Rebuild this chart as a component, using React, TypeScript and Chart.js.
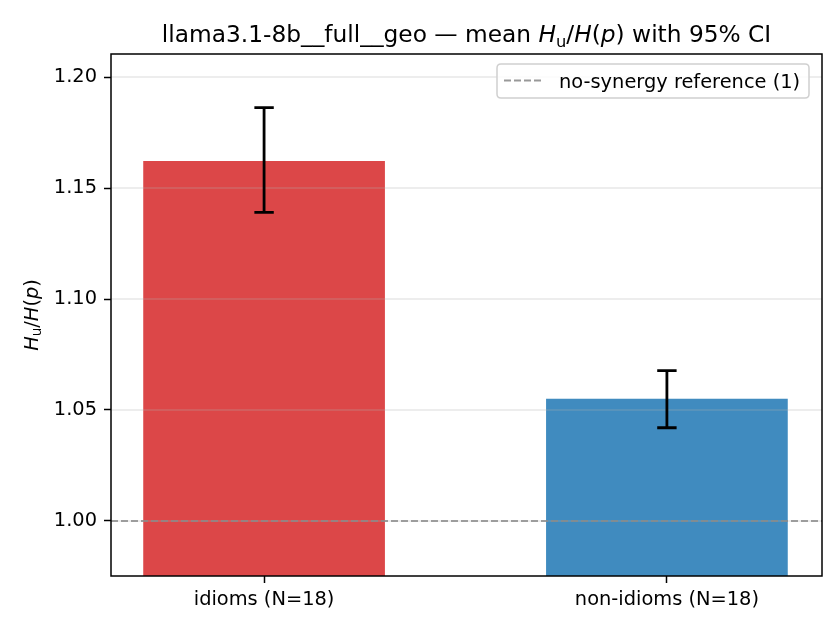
import React, { useEffect, useRef } from "react";
import { Chart, registerables } from "chart.js";

Chart.register(...registerables);

const categories = ["idioms (N=18)", "non-idioms (N=18)"];
const xPositions = [0, 1];
const means = [1.1622, 1.0551];
const ciLow = [1.1390, 1.0420];
const ciHigh = [1.1862, 1.0677];
const barColors = ["rgba(214,39,40,0.85)", "rgba(31,119,180,0.85)"];
const yTicks = [1.0, 1.05, 1.1, 1.15, 1.2];
const yMin = 0.9752;
const yMax = 1.2104;
const xMin = -0.38;
const xMax = 1.385;
const refValue = 1.0;
const refLabel = "no-synergy reference (1)";

const FONT = "'DejaVu Sans', 'Liberation Sans', sans-serif";
const FS = 19.4;

type Seg = { t: string; s: "n" | "i" | "sub" };

function segFont(seg: Seg, size: number) {
  if (seg.s === "i") return `italic ${size}px ${FONT}`;
  if (seg.s === "sub") return `${size * 0.7}px ${FONT}`;
  return `${size}px ${FONT}`;
}

function drawMath(ctx: CanvasRenderingContext2D, segs: Seg[], cx: number, y: number, size: number) {
  let total = 0;
  const widths = segs.map((sg) => {
    ctx.font = segFont(sg, size);
    const w = ctx.measureText(sg.t).width;
    total += w;
    return w;
  });
  let x = cx - total / 2;
  ctx.textAlign = "left";
  segs.forEach((sg, i) => {
    ctx.font = segFont(sg, size);
    ctx.fillText(sg.t, x, sg.s === "sub" ? y + size * 0.22 : y);
    x += widths[i];
  });
}

const titleSegs: Seg[] = [
  { t: "llama3.1-8b__full__geo — mean ", s: "n" },
  { t: "H", s: "i" },
  { t: "u", s: "sub" },
  { t: "/", s: "n" },
  { t: "H", s: "i" },
  { t: "(", s: "n" },
  { t: "p", s: "i" },
  { t: ")", s: "n" },
  { t: " with 95% CI", s: "n" },
];

const ylabelSegs: Seg[] = [
  { t: "H", s: "i" },
  { t: "u", s: "sub" },
  { t: "/", s: "n" },
  { t: "H", s: "i" },
  { t: "(", s: "n" },
  { t: "p", s: "i" },
  { t: ")", s: "n" },
];

const overlayPlugin = {
  id: "overlay",
  beforeDatasetsDraw(chart: any) {
    const { ctx, chartArea } = chart;
    ctx.save();
    ctx.fillStyle = "#fff";
    ctx.fillRect(chartArea.left, chartArea.top, chartArea.right - chartArea.left, chartArea.bottom - chartArea.top);
    ctx.restore();
  },
  afterDatasetsDraw(chart: any) {
    const { ctx, chartArea, scales } = chart;
    const ys = scales.y;
    const xs = scales.x;
    ctx.save();
    // grid over bars
    ctx.strokeStyle = "rgba(176,176,176,0.3)";
    ctx.lineWidth = 1.5;
    yTicks.forEach((v) => {
      const py = ys.getPixelForValue(v);
      ctx.beginPath();
      ctx.moveTo(chartArea.left, py);
      ctx.lineTo(chartArea.right, py);
      ctx.stroke();
    });
    // error bars
    ctx.strokeStyle = "#000";
    ctx.lineWidth = 2.8;
    xPositions.forEach((xv, i) => {
      const px = xs.getPixelForValue(xv);
      const lo = ys.getPixelForValue(ciLow[i]);
      const hi = ys.getPixelForValue(ciHigh[i]);
      ctx.beginPath();
      ctx.moveTo(px, lo);
      ctx.lineTo(px, hi);
      ctx.moveTo(px - 9.7, lo);
      ctx.lineTo(px + 9.7, lo);
      ctx.moveTo(px - 9.7, hi);
      ctx.lineTo(px + 9.7, hi);
      ctx.stroke();
    });
    ctx.restore();
  },
  afterDraw(chart: any) {
    const { ctx, chartArea } = chart;
    ctx.save();
    // spines
    ctx.strokeStyle = "#000";
    ctx.lineWidth = 1.5;
    ctx.strokeRect(chartArea.left, chartArea.top, chartArea.right - chartArea.left, chartArea.bottom - chartArea.top);
    // legend
    const bx = 497, by = 64, bw = 312, bh = 34, r = 4;
    ctx.beginPath();
    ctx.moveTo(bx + r, by);
    ctx.lineTo(bx + bw - r, by);
    ctx.quadraticCurveTo(bx + bw, by, bx + bw, by + r);
    ctx.lineTo(bx + bw, by + bh - r);
    ctx.quadraticCurveTo(bx + bw, by + bh, bx + bw - r, by + bh);
    ctx.lineTo(bx + r, by + bh);
    ctx.quadraticCurveTo(bx, by + bh, bx, by + bh - r);
    ctx.lineTo(bx, by + r);
    ctx.quadraticCurveTo(bx, by, bx + r, by);
    ctx.closePath();
    ctx.fillStyle = "rgba(255,255,255,0.8)";
    ctx.fill();
    ctx.strokeStyle = "#d0d0d0";
    ctx.lineWidth = 1.5;
    ctx.stroke();
    ctx.strokeStyle = "rgba(128,128,128,0.8)";
    ctx.lineWidth = 1.9;
    ctx.setLineDash([7, 3]);
    ctx.beginPath();
    ctx.moveTo(504, 80.5);
    ctx.lineTo(543, 80.5);
    ctx.stroke();
    ctx.setLineDash([]);
    ctx.fillStyle = "#000";
    ctx.font = `${FS}px ${FONT}`;
    ctx.textAlign = "left";
    ctx.textBaseline = "alphabetic";
    ctx.fillText(refLabel, 559, 88);
    // title
    ctx.textBaseline = "alphabetic";
    drawMath(ctx, titleSegs, (chartArea.left + chartArea.right) / 2, 42, 23.3);
    // y label
    ctx.translate(33, (chartArea.top + chartArea.bottom) / 2);
    ctx.rotate(-Math.PI / 2);
    ctx.textBaseline = "middle";
    drawMath(ctx, ylabelSegs, 0, 0, FS);
    ctx.restore();
  },
};

export default function App() {
  const ref = useRef<HTMLCanvasElement | null>(null);
  useEffect(() => {
    document.body.style.margin = "0";
    if (!ref.current) return;
    const chart = new Chart(ref.current, {
      type: "bar",
      data: {
        datasets: [
          {
            type: "line",
            label: refLabel,
            data: [
              { x: xMin, y: refValue },
              { x: xMax, y: refValue },
            ],
            borderColor: "rgba(128,128,128,0.8)",
            borderWidth: 1.9,
            borderDash: [7, 3],
            pointRadius: 0,
            fill: false,
            order: 1,
          } as any,
          {
            type: "bar",
            label: "mean",
            data: xPositions.map((x, i) => ({ x, y: means[i] })),
            backgroundColor: barColors,
            borderWidth: 0,
            categoryPercentage: 1,
            barPercentage: 0.6,
            order: 2,
          } as any,
        ],
      },
      options: {
        animation: false,
        responsive: true,
        maintainAspectRatio: false,
        devicePixelRatio: 1,
        layout: { padding: { top: 54, right: 18, left: 0, bottom: 0 } },
        plugins: {
          legend: { display: false },
          title: { display: false },
          tooltip: { enabled: false },
        },
        scales: {
          x: {
            type: "linear",
            offset: false,
            min: xMin,
            max: xMax,
            afterBuildTicks: (s: any) => {
              s.ticks = xPositions.map((v) => ({ value: v }));
            },
            afterFit: (s: any) => {
              s.height = 54;
            },
            ticks: {
              autoSkip: false,
              maxRotation: 0,
              padding: 5,
              color: "#000",
              font: { family: FONT, size: FS },
              callback: (_v: any, i: number) => categories[i],
            },
            grid: { offset: false, drawOnChartArea: false, drawTicks: true, tickLength: 7, tickColor: "#000", tickWidth: 1.5 },
            border: { display: false },
          },
          y: {
            type: "linear",
            min: yMin,
            max: yMax,
            afterBuildTicks: (s: any) => {
              s.ticks = yTicks.map((v) => ({ value: v }));
            },
            afterFit: (s: any) => {
              s.width = 111;
            },
            ticks: {
              padding: 7,
              color: "#000",
              font: { family: FONT, size: FS },
              callback: (v: any) => Number(v).toFixed(2),
            },
            grid: { drawOnChartArea: false, drawTicks: true, tickLength: 7, tickColor: "#000", tickWidth: 1.5 },
            border: { display: false },
          },
        },
      } as any,
      plugins: [overlayPlugin],
    });
    return () => chart.destroy();
  }, []);
  return (
    <div style={{ position: "fixed", left: 0, top: 0, width: 840, height: 630, background: "#fff" }}>
      <canvas ref={ref} />
    </div>
  );
}
